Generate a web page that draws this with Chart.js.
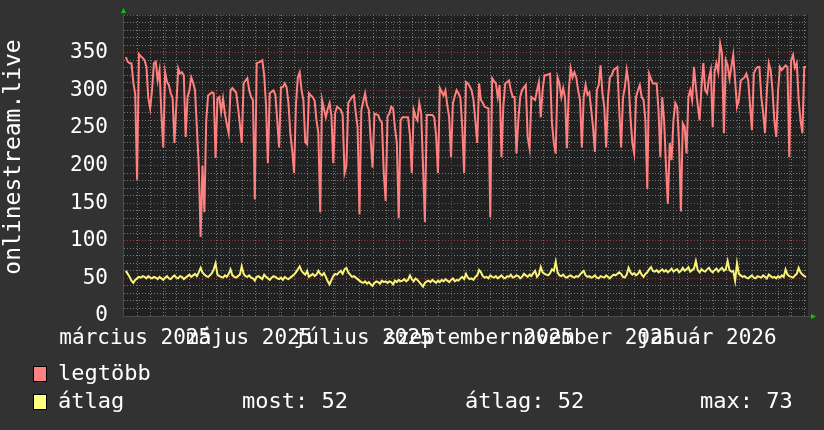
<!DOCTYPE html>
<html>
<head>
<meta charset="utf-8">
<script src="https://cdn.jsdelivr.net/npm/chart.js@4"></script>
<style>
  html, body { margin: 0; padding: 0; background: #323232; }
  #wrap { position: relative; width: 824px; height: 430px; }
  canvas { position: absolute; left: 0; top: 0; }
  .leg { position: absolute; font-family: 'DejaVu Sans Mono'; font-size: 22px; line-height: 22px; color: #fff; white-space: pre; }
  .box { position: absolute; width: 12px; height: 14px; border: 1px solid #000; }
</style>
</head>
<body>
<div id="wrap">
  <canvas id="statsChart" width="824" height="430"></canvas>
  <div class="box" style="left:33px;top:366px;background:#ff8080"></div>
  <div class="leg" style="left:58px;top:362px">legtöbb</div>
  <div class="box" style="left:33px;top:394px;background:#ffff80"></div>
  <div class="leg" style="left:58px;top:390px">átlag</div>
  <div class="leg" style="left:242px;top:390px">most: 52</div>
  <div class="leg" style="left:465px;top:390px">átlag: 52</div>
  <div class="leg" style="left:700px;top:390px">max: 73</div>
</div>
<script>
// daily values, 2025-03-10 .. 2026-03-09
const maxVals = [
  344,338,336,336,310,295,181,348,345,343, 340,331,290,276,300,336,338,313,327,269,
  224,324,311,307,296,290,230,280,329,322, 324,320,238,291,300,317,310,300,250,200,
  105,200,138,260,293,295,297,296,210,289, 291,271,289,269,255,243,300,303,300,297,
  278,255,230,309,313,316,300,291,287,155, 336,337,338,340,320,280,203,296,298,300,
  294,260,224,304,304,309,304,283,243,220, 190,280,317,324,300,287,231,228,296,293,
  291,286,260,243,138,287,275,264,275,283, 266,203,270,278,276,274,267,190,200,283,
  287,291,293,270,251,135,274,285,296,280, 274,234,197,269,268,267,260,257,190,153,
  265,269,278,276,250,230,130,260,264,264, 264,264,240,190,274,265,260,283,270,200,
  125,267,267,267,267,264,240,190,303,298, 293,300,280,264,211,283,292,300,296,290,
  251,190,311,309,305,300,287,260,230,309, 287,283,278,277,276,131,316,312,309,291,
  307,211,280,309,311,313,300,291,291,216, 260,291,300,304,307,238,223,291,289,287,
  300,311,264,300,320,320,321,322,256,230, 216,317,309,291,303,290,223,300,329,317,
  324,317,300,287,224,291,307,294,297,274, 250,218,300,307,333,296,278,224,290,317,
  320,327,329,331,274,224,290,304,327,310, 264,230,216,291,300,307,291,287,260,169,
  322,315,309,309,309,274,211,291,260,200, 149,230,207,260,283,278,230,139,256,251,
  216,291,300,287,331,304,280,260,304,336, 300,296,316,327,251,324,336,324,362,349,
  243,340,333,315,331,347,313,278,287,313, 315,317,322,313,280,247,322,328,331,331,
  291,270,243,300,336,327,300,260,238,300, 331,327,330,333,331,211,340,347,330,336,
  287,260,243,331,331
];
const avgVals = [
  60,56,52,47,44,48,50,52,51,53, 52,50,53,51,50,52,51,49,52,50,
  48,51,53,50,49,52,54,51,50,53, 52,49,51,53,55,52,54,56,53,58,
  64,58,55,53,52,54,57,62,70,55, 53,52,51,54,52,56,62,54,52,51,
  53,55,66,56,53,52,54,51,50,47, 52,53,51,49,55,52,50,48,51,53,
  52,50,49,51,48,52,50,49,51,53, 55,58,62,66,60,57,55,60,52,54,
  56,53,55,60,56,54,57,52,46,42, 48,53,56,55,58,60,56,62,64,58,
  55,52,53,51,49,47,45,44,46,43, 45,42,40,44,46,45,43,47,45,46,
  44,46,45,42,47,45,48,46,47,49, 46,48,54,49,46,50,48,45,42,39,
  44,46,47,45,48,46,44,47,45,48, 46,49,47,45,48,50,46,48,47,50,
  52,49,56,51,49,50,48,52,54,61, 58,53,51,52,50,54,52,51,53,50,
  52,54,51,50,53,52,55,51,52,54, 53,50,52,56,54,52,55,53,57,60,
  52,55,65,58,56,55,54,57,62,60, 72,58,54,53,55,52,51,53,54,52,
  51,53,52,55,58,60,54,52,53,51, 52,54,51,50,53,52,51,54,52,50,
  53,55,54,56,58,56,52,51,55,64, 58,55,57,54,56,60,55,52,56,58,
  62,65,60,59,61,58,60,62,59,61, 58,60,63,59,61,62,58,60,64,60,
  62,65,59,61,63,73,61,58,62,60, 59,62,64,60,58,61,63,59,62,64,
  60,62,73,61,59,60,47,70,56,54, 52,53,51,50,52,54,51,50,53,52,
  51,54,52,50,55,53,51,52,50,53, 51,54,52,62,55,53,52,51,54,56,
  64,58,55,53,52
];
// x axis in days since 2025-03-10 (a Monday)
const labelDays = [6, 67, 128, 190, 251, 312];
const labelTexts = ['március 2025', 'május 2025', 'július 2025', 'szeptember 2025', 'november 2025', 'január 2026'];
const monthStarts = [22, 52, 83, 113, 144, 175, 205, 236, 266, 297, 328, 356];
const dayCount = 366;

const MONO = 'DejaVu Sans Mono';
const gridGrey = 'rgba(125,125,125,0.95)';
const gridRed = 'rgba(150,60,60,1)';

// backgrounds, vertical grid, axis arrows, y title
const rrdLook = {
    id: 'rrdLook',
    beforeDraw(chart) {
        const { ctx, chartArea: a } = chart;
        ctx.save();
        ctx.fillStyle = '#323232';
        ctx.fillRect(0, 0, chart.width, chart.height);
        ctx.fillStyle = '#212121';
        ctx.fillRect(a.left, a.top, a.right - a.left, a.bottom - a.top);
        ctx.restore();
    },
    beforeDatasetsDraw(chart) {
        const { ctx, chartArea: a, scales: { x } } = chart;
        ctx.save();
        ctx.lineWidth = 1;
        ctx.setLineDash([1, 2]);
        for (let d = 7; d < dayCount; d += 7) {
            if (monthStarts.includes(d)) continue;
            const px = Math.round(x.getPixelForValue(d)) + 0.5;
            ctx.strokeStyle = gridGrey;
            ctx.beginPath(); ctx.moveTo(px, a.top); ctx.lineTo(px, a.bottom + 2); ctx.stroke();
        }
        monthStarts.forEach(d => {
            const px = Math.round(x.getPixelForValue(d)) + 0.5;
            ctx.strokeStyle = gridRed;
            ctx.beginPath(); ctx.moveTo(px, a.top); ctx.lineTo(px, a.bottom + 2); ctx.stroke();
        });
        ctx.restore();
    },
    afterDraw(chart) {
        const { ctx, chartArea: a } = chart;
        ctx.save();
        // axes
        ctx.strokeStyle = '#4a4a4a';
        ctx.lineWidth = 1;
        ctx.beginPath();
        ctx.moveTo(a.left - 0.5, a.top - 3); ctx.lineTo(a.left - 0.5, a.bottom + 0.5);
        ctx.lineTo(a.right + 6, a.bottom + 0.5);
        ctx.stroke();
        // arrows
        ctx.fillStyle = '#00cc00';
        ctx.beginPath();
        ctx.moveTo(a.left - 3, a.top - 2); ctx.lineTo(a.left + 2, a.top - 2); ctx.lineTo(a.left - 0.5, a.top - 7);
        ctx.fill();
        ctx.beginPath();
        ctx.moveTo(a.right + 3, a.bottom - 2); ctx.lineTo(a.right + 3, a.bottom + 3); ctx.lineTo(a.right + 8, a.bottom + 0.5);
        ctx.fill();
        // y title
        ctx.translate(20, 157);
        ctx.rotate(-Math.PI / 2);
        ctx.fillStyle = '#ffffff';
        ctx.font = '23px "' + MONO + '"';
        ctx.textAlign = 'center';
        ctx.textBaseline = 'alphabetic';
        ctx.fillText('onlinestream.live', 0, 0);
        ctx.restore();
    }
};

const ctx = document.getElementById('statsChart').getContext('2d');
const chart = new Chart(ctx, {
    type: 'line',
    data: {
        datasets: [
            {
                label: 'legtöbb',
                data: maxVals.map((v, i) => ({ x: i + 1, y: v })),
                borderColor: '#ff8080',
                borderWidth: 2,
                pointRadius: 0,
                tension: 0
            },
            {
                label: 'átlag',
                data: avgVals.map((v, i) => ({ x: i + 1, y: v })),
                borderColor: '#f8f478',
                borderWidth: 2,
                pointRadius: 0,
                tension: 0
            }
        ]
    },
    options: {
        responsive: false,
        animation: false,
        devicePixelRatio: 1,
        layout: { padding: { left: 0, top: 15, right: 16, bottom: 0 } },
        plugins: { legend: { display: false }, tooltip: { enabled: false } },
        scales: {
            x: {
                type: 'linear',
                min: 0,
                max: dayCount,
                grid: { display: false },
                border: { display: false },
                afterBuildTicks: (scale) => { scale.ticks = labelDays.map(v => ({ value: v })); },
                afterFit: (scale) => {
                    scale.height = 114;
                    scale.paddingLeft = 0;
                    scale.paddingRight = 0;
                },
                ticks: {
                    autoSkip: false,
                    maxRotation: 0,
                    minRotation: 0,
                    padding: 2,
                    color: '#ffffff',
                    font: { family: MONO, size: 21 },
                    callback: (v, i) => labelTexts[i]
                }
            },
            y: {
                min: 0,
                max: 400,
                afterFit: (scale) => {
                    scale.width = 124;
                    scale.paddingTop = 0;
                    scale.paddingBottom = 0;
                },
                grid: {
                    color: (c) => (c.tick.value % 50 === 0 ? gridRed : gridGrey),
                    drawTicks: false
                },
                border: { display: false, dash: [1, 2] },
                ticks: {
                    autoSkip: false,
                    stepSize: 10,
                    padding: 16,
                    color: '#ffffff',
                    font: { family: MONO, size: 21 },
                    callback: (v) => (v % 50 === 0 && v < 400 ? v : '')
                }
            }
        }
    },
    plugins: [rrdLook]
});
</script>
</body>
</html>
